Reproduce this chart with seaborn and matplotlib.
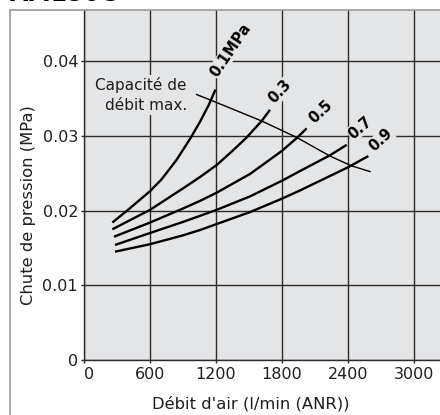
import matplotlib
matplotlib.use("Agg")
import matplotlib.pyplot as plt
from matplotlib.lines import Line2D
import seaborn as sns
import pandas as pd

# ---------------- data ----------------
pressures = ["0.1", "0.3", "0.5", "0.7", "0.9"]
pressure_labels = ["0.1MPa", "0.3", "0.5", "0.7", "0.9"]

flow_01 = [258, 400, 600, 706, 842, 964, 1055, 1136, 1195]
drop_01 = [0.0184, 0.0201, 0.0226, 0.0242, 0.0268, 0.0296, 0.0319, 0.0342, 0.0362]

flow_03 = [258, 600, 903, 1055, 1206, 1350, 1479, 1615, 1691]
drop_03 = [0.0175, 0.0201, 0.0230, 0.0245, 0.0261, 0.0280, 0.0298, 0.0320, 0.0335]

flow_05 = [273, 600, 903, 1055, 1206, 1509, 1800, 1933, 2024]
drop_05 = [0.0165, 0.0184, 0.0203, 0.0213, 0.0224, 0.0249, 0.0280, 0.0297, 0.0310]

flow_07 = [282, 600, 903, 1206, 1509, 1800, 1964, 2236, 2388]
drop_07 = [0.0154, 0.0170, 0.0185, 0.0201, 0.0219, 0.0240, 0.0253, 0.0274, 0.0288]

flow_09 = [282, 600, 903, 1055, 1206, 1509, 1800, 1964, 2400, 2585]
drop_09 = [0.0145, 0.0155, 0.0167, 0.0174, 0.0182, 0.0198, 0.0216, 0.0227, 0.0258, 0.0273]

cap_flow = [1018, 1150, 1615, 1933, 2236, 2430, 2606]
cap_drop = [0.03557, 0.0348, 0.0320, 0.0298, 0.0273, 0.0260, 0.0252]

label_x = [1332, 1782, 2155, 2509, 2700]
label_y = [0.0415, 0.0359, 0.0332, 0.0311, 0.02945]
label_rot = [56, 47, 43, 41, 43]

x_ticks = [0, 600, 1200, 1800, 2400, 3000]
x_ticklabels = ["0", "600", "1200", "1800", "2400", "3000"]
y_ticks = [0, 0.01, 0.02, 0.03, 0.04]
y_ticklabels = ["0", "0.01", "0.02", "0.03", "0.04"]

title = "AM150C"
xlabel = "Débit d'air (l/min (ANR))"
ylabel = "Chute de pression (MPa)"
cap_text = "Capacité de\ndébit max."

# ---------------- build table ----------------
flows = [flow_01, flow_03, flow_05, flow_07, flow_09]
drops = [drop_01, drop_03, drop_05, drop_07, drop_09]
rows = []
for p, fl, dr in zip(pressures, flows, drops):
    for f, d in zip(fl, dr):
        rows.append({"pressure": p, "flow": f, "drop": d})
df = pd.DataFrame(rows)
cap_df = pd.DataFrame({"flow": cap_flow, "drop": cap_drop})

# ---------------- style ----------------
sns.set_theme(style="white")
plt.rcParams["font.family"] = ["DejaVu Sans"]
BG = "#e4e5e7"
GRID = "#2b2b2b"
TXT = "#1e1e1e"

W, H = 440, 415
fig = plt.figure(figsize=(W / 100, H / 100), dpi=100)
fig.patch.set_facecolor("white")

ax_l, ax_r, ax_t, ax_b = 84, 440, 10, 360
ax = fig.add_axes([ax_l / W, 1 - ax_b / H, (ax_r - ax_l) / W, (ax_b - ax_t) / H])
ax.set_facecolor(BG)

x_max = (ax_r - ax_l) * 600 / 66.0
y_max = (ax_b - ax_t) / 7470.0

sns.lineplot(data=df, x="flow", y="drop", hue="pressure", palette=["black"] * 5,
             sort=False, estimator=None, legend=False, linewidth=1.7, ax=ax, zorder=4)
sns.lineplot(data=cap_df, x="flow", y="drop", color="black", sort=False,
             estimator=None, linewidth=1.0, ax=ax, zorder=4)
for ln in ax.get_lines():
    ln.set_solid_joinstyle("round")
    ln.set_solid_capstyle("butt")

ax.set_xlim(0, x_max)
ax.set_ylim(0, y_max)
ax.set_xticks(x_ticks)
ax.set_xticklabels(x_ticklabels)
ax.set_yticks(y_ticks)
ax.set_yticklabels(y_ticklabels)
ax.get_xticklabels()[0].set_horizontalalignment("left")

ax.grid(True, color=GRID, linewidth=1.0, zorder=1)
ax.set_axisbelow(True)
for s in ["top", "right"]:
    ax.spines[s].set_visible(False)
for s in ["left", "bottom"]:
    ax.spines[s].set_color(GRID)
    ax.spines[s].set_linewidth(1.0)
ax.tick_params(axis="both", direction="out", length=2.2, width=1.0, color=GRID,
               labelsize=11.5, labelcolor=TXT)
ax.tick_params(axis="x", pad=2.6, bottom=True)
ax.tick_params(axis="y", pad=2.1, left=True)
ax.set_xlabel("")
ax.set_ylabel("")

# pressure labels
for lab, lx, ly, rot in zip(pressure_labels, label_x, label_y, label_rot):
    ax.text(lx, ly, lab, rotation=rot, rotation_mode="anchor", ha="center", va="center",
            fontsize=10.5, fontweight="bold", color="black", zorder=5,
            bbox=dict(boxstyle="square,pad=0.05", facecolor=BG, edgecolor="none"))

ax.text(936, 0.03548, cap_text, ha="right", va="center", multialignment="right",
        fontsize=11, color=TXT, linespacing=1.35, zorder=5,
        bbox=dict(boxstyle="square,pad=0.15", facecolor=BG, edgecolor="none"))

# axis labels as figure text
fig.text(251 / W, 1 - 404 / H, xlabel, ha="center", va="center", fontsize=11.8, color=TXT)
fig.text(29 / W, 1 - 205 / H, ylabel, ha="center", va="center", rotation=90,
         fontsize=11.8, color=TXT)

# title (cut by the top edge, as in the reference)
fig.text(10 / W, 1 - 1.0 / H, title, ha="left", va="baseline", fontsize=17,
         fontweight="bold", color="black")

# outer frame
fig.add_artist(Line2D([9.5 / W, 9.5 / W], [1 - 10 / H, 0], transform=fig.transFigure,
                      color="#9a9a9a", linewidth=1.2))
fig.add_artist(Line2D([9.5 / W, 1], [1 - 10 / H, 1 - 10 / H], transform=fig.transFigure,
                      color="#9a9a9a", linewidth=1.2))

fig.savefig("out.png", dpi=100, facecolor="white")
